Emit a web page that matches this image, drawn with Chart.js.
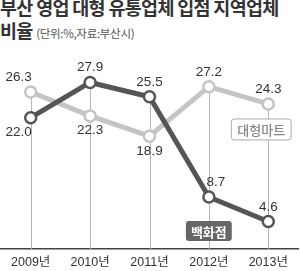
<!DOCTYPE html>
<html>
<head>
<meta charset="utf-8">
<script src="https://cdn.jsdelivr.net/npm/chart.js@4"></script>
<style>
  body { margin: 0; background: #fff; }
  #wrap { position: relative; width: 300px; height: 271px; overflow: hidden; }
  #title {
    position: absolute; left: 0; top: -4px;
    font-family: "Noto Sans CJK KR", sans-serif; font-weight: bold;
    font-size: 18.5px; line-height: 23px; color: #333; letter-spacing: -0.7px;
    white-space: nowrap;
  }
  #title span { font-weight: normal; font-size: 11.5px; color: #555; letter-spacing: -0.3px; }
  canvas { position: absolute; left: 0; top: 0; }
</style>
</head>
<body>
<div id="wrap">
  <div id="title">부산 영업 대형 유통업체 입점 지역업체<br>비율 <span>(단위:%,자료:부산시)</span></div>
  <canvas id="chart" width="300" height="276"></canvas>
</div>
<script>
const years = ['2009년', '2010년', '2011년', '2012년', '2013년'];
const department = [22.0, 27.9, 25.5, 8.7, 4.6];
const hypermarket = [26.3, 22.3, 18.9, 27.2, 24.3];
// label above (1) or below (-1) each point
const deptLabelPos = [-1, 1, 1, 1, 1];
const martLabelPos = [1, -1, -1, 1, 1];

const DARK = '#555555';
const LIGHT = '#c4c4c4';

// vertical guide from the top point of each year down to the axis
const guides = {
  id: 'guides',
  beforeDatasetsDraw(chart) {
    const { ctx, scales: { x, y }, chartArea } = chart;
    ctx.save();
    ctx.strokeStyle = '#b5b5b5';
    ctx.lineWidth = 1;
    years.forEach((_, i) => {
      const px = Math.round(x.getPixelForValue(i)) + 0.5;
      const top = y.getPixelForValue(Math.max(department[i], hypermarket[i]));
      ctx.beginPath();
      ctx.moveTo(px, top);
      ctx.lineTo(px, chartArea.bottom);
      ctx.stroke();
    });
    ctx.restore();
  }
};

function roundRect(ctx, x, y, w, h, r) {
  ctx.beginPath();
  ctx.moveTo(x + r, y);
  ctx.arcTo(x + w, y, x + w, y + h, r);
  ctx.arcTo(x + w, y + h, x, y + h, r);
  ctx.arcTo(x, y + h, x, y, r);
  ctx.arcTo(x, y, x + w, y, r);
  ctx.closePath();
}

const labels = {
  id: 'labels',
  afterDatasetsDraw(chart) {
    const { ctx } = chart;
    ctx.save();
    ctx.font = '13.5px "Liberation Sans", Arial, sans-serif';
    ctx.fillStyle = '#333';
    ctx.textAlign = 'center';
    [[0, department, deptLabelPos], [1, hypermarket, martLabelPos]].forEach(([di, vals, pos]) => {
      const meta = chart.getDatasetMeta(di);
      meta.data.forEach((pt, i) => {
        let lx = pt.x;
        if (i === 0) lx = pt.x - 12;
        if (di === 0 && i === 3) lx = pt.x + 7; // keep 8.7 clear of the falling line
        if (pos[i] > 0) {
          ctx.textBaseline = 'bottom';
          ctx.fillText(vals[i].toFixed(1), lx, pt.y - 8);
        } else {
          ctx.textBaseline = 'top';
          ctx.fillText(vals[i].toFixed(1), lx, pt.y + 8);
        }
      });
    });

    // series tags
    const martPt = chart.getDatasetMeta(1).data[4];
    ctx.font = '500 13px "Noto Sans CJK KR", sans-serif';
    ctx.textBaseline = 'middle';
    let w = ctx.measureText('대형마트').width + 12;
    roundRect(ctx, martPt.x - 37, martPt.y + 15, w, 21, 3);
    ctx.fillStyle = '#fff';
    ctx.fill();
    ctx.strokeStyle = '#aaa';
    ctx.lineWidth = 1;
    ctx.stroke();
    ctx.fillStyle = '#888';
    ctx.textAlign = 'left';
    ctx.fillText('대형마트', martPt.x - 31, martPt.y + 26);

    const deptPt = chart.getDatasetMeta(0).data[3];
    ctx.font = 'bold 13px "Noto Sans CJK KR", sans-serif';
    w = ctx.measureText('백화점').width + 10;
    roundRect(ctx, deptPt.x - 23, deptPt.y + 24, w, 20, 3);
    ctx.fillStyle = '#666';
    ctx.fill();
    ctx.fillStyle = '#fff';
    ctx.fillText('백화점', deptPt.x - 18, deptPt.y + 34.5);
    ctx.restore();
  }
};

new Chart(document.getElementById('chart'), {
  type: 'line',
  data: {
    labels: years,
    datasets: [
      {
        label: '백화점',
        data: department,
        borderColor: DARK,
        borderWidth: 5,
        pointRadius: 5.5,
        pointBorderWidth: 2.5,
        pointBackgroundColor: '#fff',
        pointBorderColor: DARK,
        order: 0
      },
      {
        label: '대형마트',
        data: hypermarket,
        borderColor: LIGHT,
        borderWidth: 5,
        pointRadius: 5.5,
        pointBorderWidth: 2.5,
        pointBackgroundColor: '#fff',
        pointBorderColor: LIGHT,
        order: 1
      }
    ]
  },
  options: {
    responsive: false,
    animation: false,
    layout: { autoPadding: false, padding: { top: 58, left: 1, right: 2, bottom: 0 } },
    plugins: { legend: { display: false }, tooltip: { enabled: false } },
    scales: {
      x: {
        offset: true,
        grid: { display: false, drawTicks: false },
        border: { display: true, color: '#444', width: 1.5 },
        ticks: {
          color: '#333',
          padding: 6,
          font: { family: '"Liberation Sans", Arial, "Noto Sans CJK KR", sans-serif', size: 12.5 }
        }
      },
      y: {
        display: false,
        min: 0,
        max: 32
      }
    }
  },
  plugins: [guides, labels]
});
</script>
</body>
</html>
